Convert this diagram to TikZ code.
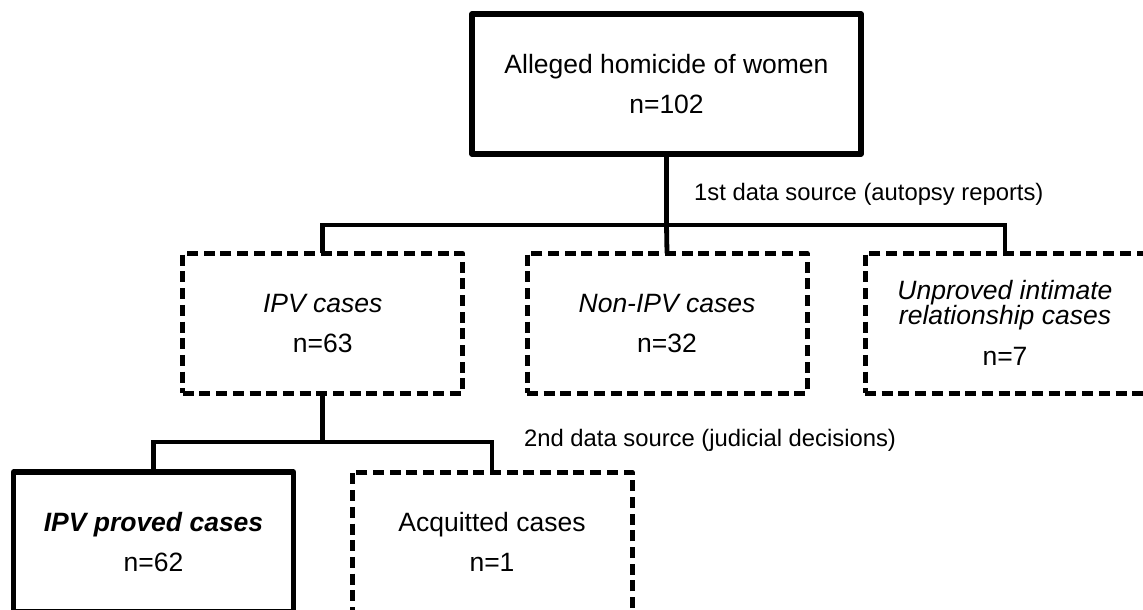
\documentclass[tikz,border=0pt]{standalone}
\usepackage{fontspec}
\setmainfont{Liberation Sans}
\begin{document}
\begin{tikzpicture}[x=1pt,y=-1pt,
  boxbase/.style={rectangle, align=center, inner sep=0pt, outer sep=0pt,
    minimum width=280pt, minimum height=140pt,
    font=\fontsize{26.5}{40}\selectfont},
  solidbox/.style={boxbase, draw, line width=5.2pt, line join=round},
  dashbox/.style={boxbase, draw, line width=5pt, line join=round,
    dash pattern=on 11pt off 5.7pt},
  conn/.style={draw, line width=4.8pt, line join=miter},
  lbl/.style={anchor=base west, inner sep=0pt, font=\fontsize{23.8}{28}\selectfont}
]
\clip (0,0) rectangle (1143,610);

\node[solidbox, minimum width=389pt] (top) at (666.5,84) {Alleged homicide of women\\n=102};

\node[dashbox] (ipv) at (322.7,323.3) {\itshape IPV cases\\n=63};
\node[dashbox] (non) at (667,323.3) {\itshape Non-IPV cases\\n=32};
\node[dashbox] (unp) at (1005,323.3) {\itshape Unproved intimate\\[-15pt]\itshape relationship cases\\[1pt]n=7};

\node[solidbox] (prov) at (153.5,542) {\bfseries\itshape IPV proved cases\\n=62};
\node[dashbox] (acq) at (492,542) {Acquitted cases\\n=1};

\coordinate (j1) at (666.5,225);
\coordinate (j2) at (322.7,442);

\path[conn] (top.south) -- (j1);
\path[conn] (ipv.north) |- (j1) -| (unp.north);
\path[conn] (j1) -- (non.north);

\path[conn] (ipv.south) -- (j2);
\path[conn] (prov.north) |- (j2) -| (acq.north);

\node[lbl] (l1) at (694,200) {1st data source (autopsy reports)};
\node[lbl] (l2) at (524,446) {2nd data source (judicial decisions)};
\end{tikzpicture}
\end{document}
